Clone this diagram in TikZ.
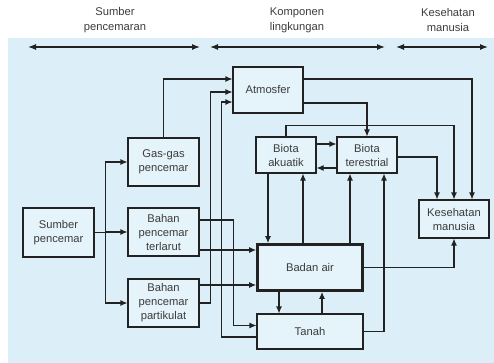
\documentclass[tikz,border=0pt]{standalone}
\usepackage{fontspec}
\setsansfont{Liberation Sans}
\usepackage{tikz}
\usetikzlibrary{arrows.meta, positioning, calc}
\usepackage{xcolor}
\definecolor{bgblue}{RGB}{220,238,247}
\definecolor{boxblue}{RGB}{229,243,250}
\definecolor{inkline}{RGB}{34,34,34}
\definecolor{inktext}{RGB}{60,60,60}

\begin{document}
\begin{tikzpicture}[
  x=1pt, y=-1pt,
  box/.style={draw=inkline, line width=1.1pt, fill=boxblue, align=center, inner sep=0pt,
    font=\sffamily\fontsize{11.2}{14}\selectfont, text=inktext},
  head/.style={align=center, font=\sffamily\fontsize{11.2}{15}\selectfont, text=inktext},
  arrow/.style={-{Latex[length=7pt, width=6pt]}, line width=1.1pt, draw=inkline},
  span/.style={{Latex[length=8pt, width=6pt]}-{Latex[length=8pt, width=6pt]}, line width=1.2pt, draw=inkline}
]
\useasboundingbox (0,0) rectangle (494,363);
\fill[bgblue] (8,38) rectangle (494,363);

% headings
\node[head] (hsumber) at (115,20) {Sumber\\pencemaran};
\node[head] (hkomp) at (297,20) {Komponen\\lingkungan};
\node[head] (hkes) at (448,20) {Kesehatan\\manusia};
\coordinate (s1) at (28,47);  \coordinate (s2) at (200,47);
\coordinate (k1) at (210,47); \coordinate (k2) at (385,47);
\coordinate (m1) at (396,47); \coordinate (m2) at (488,47);
\draw[span] (s1) -- (s2);
\draw[span] (k1) -- (k2);
\draw[span] (m1) -- (m2);

% boxes
\node[box, minimum width=71pt, minimum height=49pt] (sumber) at (58.5,232.5) {Sumber\\pencemar};
\node[box, minimum width=71pt, minimum height=48pt] (gas) at (163.5,162) {Gas-gas\\pencemar};
\node[box, minimum width=71pt, minimum height=48pt] (terlarut) at (163.5,232) {Bahan\\pencemar\\terlarut};
\node[box, minimum width=71pt, minimum height=48pt] (partikulat) at (163.5,303) {Bahan\\pencemar\\partikulat};
\node[box, minimum width=70pt, minimum height=46pt] (atmos) at (268,90) {Atmosfer};
\node[box, minimum width=60pt, minimum height=36pt] (akuatik) at (286,155) {Biota\\akuatik};
\node[box, minimum width=60pt, minimum height=36pt] (terestrial) at (367,155) {Biota\\terestrial};
\node[box, minimum width=70pt, minimum height=38pt] (kesehatan) at (454,219) {Kesehatan\\manusia};
\node[box, line width=2.8pt, minimum width=105pt, minimum height=46pt] (badan) at (310,267.5) {Badan air};
\node[box, minimum width=106pt, minimum height=35pt] (tanah) at (310,331.5) {Tanah};

% sumber to the three kinds
\draw[arrow] (sumber.east) -- ++(11,0) |- (gas.west);
\draw[arrow] (sumber.east) -- ++(11,0) |- (terlarut.west);
\draw[arrow] (sumber.east) -- ++(11,0) |- (partikulat.west);

% into atmosfer
\draw[arrow] (gas.north) |- ([yshift=11pt]atmos.west);
\draw[arrow] (partikulat.east) -- ++(11,0) |- ([yshift=-2pt]atmos.west);
\draw[arrow] ([yshift=-5.5pt]tanah.west) -- ++(-35,0) |- ([yshift=-12pt]atmos.west);

% into badan air and tanah
\draw[arrow] ([yshift=12pt]terlarut.east) -- ++(34,0) |- ([yshift=6pt]tanah.west);
\draw[arrow] ([yshift=-18pt]terlarut.east) -- ([yshift=-18pt]terlarut.east -| badan.west);
\draw[arrow] ([yshift=18pt]partikulat.east) -- ([yshift=18pt]partikulat.east -| badan.west);
\draw[arrow] ([xshift=-31pt]badan.south) -- ([xshift=-31pt]tanah.north);
\draw[arrow] ([xshift=12pt]tanah.north) -- ([xshift=12pt]badan.south);

% biota
\draw[arrow] ([xshift=-18pt]akuatik.south) -- ([xshift=-18pt]akuatik.south |- badan.north);
\draw[arrow] ([xshift=17pt]akuatik.south |- badan.north) -- ([xshift=17pt]akuatik.south);
\draw[arrow] ([xshift=-17pt]terestrial.south |- badan.north) -- ([xshift=-17pt]terestrial.south);
\draw[arrow] (tanah.east) -| ([xshift=17pt]terestrial.south);
\draw[arrow] ([yshift=11pt]akuatik.east) -- ([yshift=11pt]terestrial.west);
\draw[arrow] ([yshift=-13pt]terestrial.west) -- ([yshift=-13pt]akuatik.east);
\draw[arrow] ([yshift=-13pt]atmos.east) -| (terestrial.north);

% to kesehatan manusia
\draw[arrow] ([yshift=11pt]atmos.east) -| ([xshift=18pt]kesehatan.north);
\draw[arrow] (akuatik.north) -- ++(0,-11) -| (kesehatan.north);
\draw[arrow] ([yshift=-2pt]terestrial.east) -| ([xshift=-17pt]kesehatan.north);
\draw[arrow] (badan.east) -| (kesehatan.south);
\end{tikzpicture}
\end{document}
